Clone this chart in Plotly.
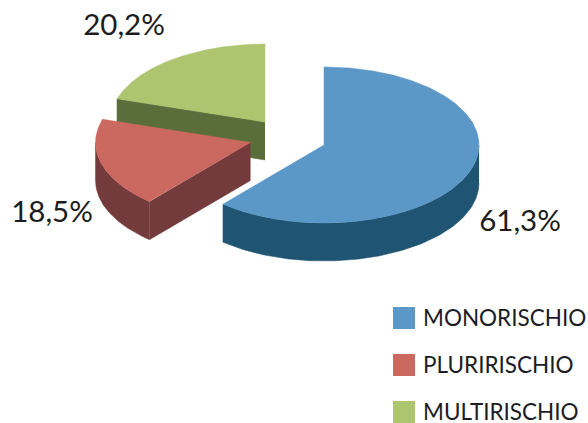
import numpy as np
import plotly.graph_objects as go

categories = ["MONORISCHIO", "PLURIRISCHIO", "MULTIRISCHIO"]
values = [61.3, 18.5, 20.2]
top_colors = ["#5B97C7", "#CB6860", "#ADC56F"]
side_colors = ["#1F5572", "#733B3B", "#5A6E3C"]

# pie geometry in page pixels
centers = [(324, 145), (250.5, 142.5), (265, 122)]
RX, RY, DEPTH = 155, 78, 38
label_pos = [(520, 223.5), (52, 214.5), (124, 27.5)]
swatch_x = 404
swatch_y = [318, 365, 412]
legend_text_x = 423
legend_text_y = [320, 367, 414]

def pt(c, deg, dz=0):
    t = np.radians(deg)
    return c[0] + RX * np.sin(t), c[1] - RY * np.cos(t) + dz

def poly(fig, xs, ys, color):
    fig.add_trace(go.Scatter(
        x=list(xs), y=list(ys), mode="lines", fill="toself", fillcolor=color,
        line=dict(color=color, width=0.5), hoverinfo="skip", showlegend=False))

fig = go.Figure()
edges = np.concatenate([[0], np.cumsum(values)]) * 3.6 / sum(values) * 100

for i in [2, 1, 0]:
    c, a0, a1 = centers[i], edges[i], edges[i + 1]
    # wall along the cut at the slice's start angle when it faces the viewer
    if i > 0:
        x0, y0 = pt(c, a0)
        poly(fig, [c[0], x0, x0, c[0]], [c[1], y0, y0 + DEPTH, c[1] + DEPTH], side_colors[i])
    # outer rim, front half only (angles between 90 and 270)
    lo, hi = max(a0, 90), min(a1, 270)
    if hi > lo:
        arc = np.linspace(lo, hi, 120)
        xt, yt = pt(c, arc)
        poly(fig, np.r_[xt, xt[::-1]], np.r_[yt, yt[::-1] + DEPTH], side_colors[i])
    # top face
    arc = np.linspace(a0, a1, 240)
    xt, yt = pt(c, arc)
    poly(fig, np.r_[c[0], xt, c[0]], np.r_[c[1], yt, c[1]], top_colors[i])

# percentage labels
fig.add_trace(go.Scatter(
    x=[p[0] for p in label_pos], y=[p[1] for p in label_pos], mode="text",
    text=[f"{v:.1f}%".replace(".", ",") for v in values],
    textposition="middle center",
    textfont=dict(family="Lato", size=29.5, color="#1c1c1c"),
    hoverinfo="skip", showlegend=False))

# legend
fig.add_trace(go.Scatter(
    x=[swatch_x] * 3, y=swatch_y, mode="markers",
    marker=dict(symbol="square", size=22, color=top_colors, line=dict(width=0)),
    hoverinfo="skip", showlegend=False, cliponaxis=False))
fig.add_trace(go.Scatter(
    x=[legend_text_x] * 3, y=legend_text_y, mode="text",
    text=categories, textposition="middle right",
    textfont=dict(family="Lato", size=22.5, color="#1c1c24"),
    hoverinfo="skip", showlegend=False, cliponaxis=False))

fig.update_layout(
    width=588, height=423, autosize=False, margin=dict(l=0, r=0, t=0, b=0),
    paper_bgcolor="white", plot_bgcolor="white", showlegend=False,
    xaxis=dict(range=[0, 588], visible=False, fixedrange=True),
    yaxis=dict(range=[423, 0], visible=False, fixedrange=True),
)
fig.write_html("out.html", config={"displayModeBar": False},
               post_script="document.body.style.margin='0';document.body.style.overflow='hidden';")
